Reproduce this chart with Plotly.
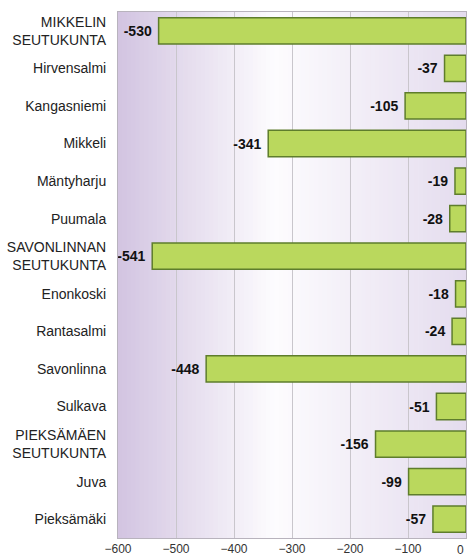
import plotly.graph_objects as go

# -----------------------------
# Datos
# -----------------------------
alueet = [
    "MIKKELIN<br>SEUTUKUNTA", "Hirvensalmi", "Kangasniemi", "Mikkeli",
    "Mäntyharju", "Puumala", "SAVONLINNAN<br>SEUTUKUNTA", "Enonkoski",
    "Rantasalmi", "Savonlinna", "Sulkava", "PIEKSÄMÄEN<br>SEUTUKUNTA",
    "Juva", "Pieksämäki",
]
muutos = [-530, -37, -105, -341, -19, -28, -541, -18, -24, -448, -51, -156, -99, -57]
tick_arvot = [-600, -500, -400, -300, -200, -100, 0]

# -----------------------------
# Taustan liukuväri (violetti -> valkoinen -> violetti)
# -----------------------------
def sekoita(c1, c2, t):
    return "rgb(%d,%d,%d)" % tuple(round(a + (b - a) * t) for a, b in zip(c1, c2))

vasen = (210, 196, 225)
keski = (253, 252, 254)
oikea = (228, 220, 238)
n = 80
muodot = []
for i in range(n):
    t = (i + 0.5) / n
    if t < 0.45:
        vari = sekoita(vasen, keski, t / 0.45)
    else:
        vari = sekoita(keski, oikea, (t - 0.45) / 0.55)
    muodot.append(dict(
        type="rect", xref="x domain", yref="y domain",
        x0=i / n, x1=(i + 1) / n + 0.002, y0=0, y1=1,
        fillcolor=vari, line=dict(width=0), layer="below",
    ))

# -----------------------------
# Kuvio
# -----------------------------
fig = go.Figure(go.Bar(
    x=muutos, y=alueet, orientation="h",
    marker=dict(color="#bad85d", line=dict(color="#5e7d2c", width=1.5)),
    width=0.7,
    text=[str(v) for v in muutos], textposition="outside",
    textfont=dict(family="Liberation Sans, Arial", size=14, color="#111111"),
    texttemplate="<b>%{text}</b> ",
    cliponaxis=False,
))

# nollan merkintä oikeassa reunassa
fig.add_annotation(
    x=tick_arvot[-1], xref="x", y=0, yref="paper", yanchor="top", xanchor="right",
    yshift=-3, text=str(tick_arvot[-1]), showarrow=False,
    font=dict(family="Liberation Sans, Arial", size=12, color="#333333"),
)

fig.update_layout(
    width=467, height=556,
    margin=dict(l=118, r=1, t=12, b=18, autoexpand=False),
    paper_bgcolor="white", plot_bgcolor="rgba(0,0,0,0)",
    shapes=muodot,
    showlegend=False,
    font=dict(family="Liberation Sans, Arial", color="#222222"),
)
fig.update_xaxes(
    range=[-600, 0], tickvals=tick_arvot,
    tickfont=dict(size=12, color="#333333"),
    showgrid=True, gridcolor="#c9c6cc", gridwidth=1,
    zeroline=False, showline=True, linecolor="#b8b3bd", mirror=True,
    ticks="", automargin=False,
)
fig.update_yaxes(
    autorange="reversed",
    tickfont=dict(size=14, color="#222222"),
    showline=True, linecolor="#b8b3bd", mirror=True,
    ticks="", ticklabelstandoff=8, automargin=False,
)

fig.write_html(
    "out.html",
    config={"displayModeBar": False},
    post_script="document.body.style.margin='0';",
)
